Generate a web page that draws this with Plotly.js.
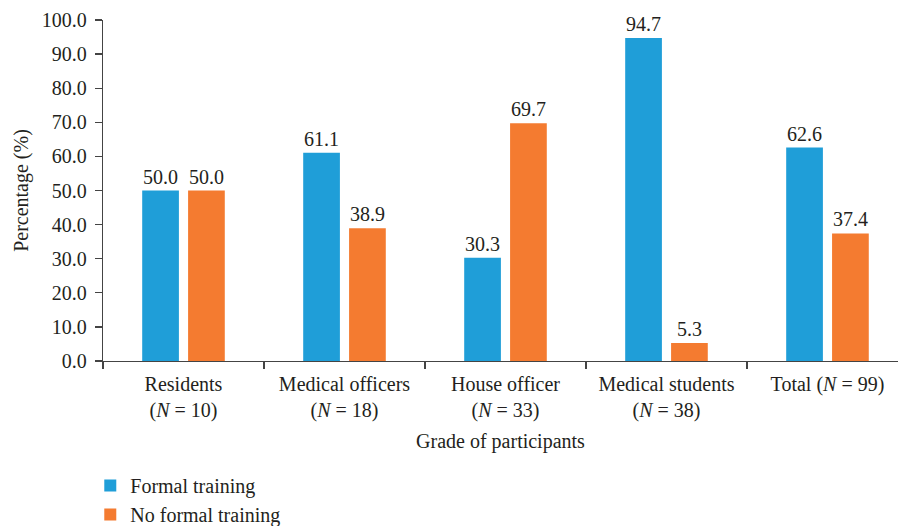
<!DOCTYPE html>
<html><head><meta charset="utf-8">
<script src="https://cdn.plot.ly/plotly-3.0.1.min.js"></script>
<style>html,body{margin:0;padding:0;background:#fff}</style>
</head><body>
<div id="chart" style="width:898px;height:526px"></div>
<script>
const categories = ["Residents<br>(<i>N</i> = 10)", "Medical officers<br>(<i>N</i> = 18)", "House officer<br>(<i>N</i> = 33)", "Medical students<br>(<i>N</i> = 38)", "Total (<i>N</i> = 99)"];
const formalTraining = [50.0, 61.1, 30.3, 94.7, 62.6];
const noFormalTraining = [50.0, 38.9, 69.7, 5.3, 37.4];
const yTicks = [0, 10, 20, 30, 40, 50, 60, 70, 80, 90, 100];

const font = {family: "Liberation Serif, Times New Roman, serif", size: 20, color: "#231f20"};
const traces = [
  {type: "bar", name: "Formal training", x: categories, y: formalTraining,
   marker: {color: "#1f9ed8"}, text: formalTraining.map(v => v.toFixed(1)),
   textposition: "outside", cliponaxis: false, constraintext: "none", textfont: font},
  {type: "bar", name: "No formal training", x: categories, y: noFormalTraining,
   marker: {color: "#f47b30"}, text: noFormalTraining.map(v => v.toFixed(1)),
   textposition: "outside", cliponaxis: false, constraintext: "none", textfont: font}
];
const layout = {
  width: 898, height: 526,
  margin: {l: 103, r: 0, t: 20, b: 165, autoexpand: false},
  font: font,
  paper_bgcolor: "#fff", plot_bgcolor: "#fff",
  barmode: "group", bargap: 0.43, bargroupgap: 0.2,
  showlegend: true,
  legend: {orientation: "v", x: -0.016, xref: "paper", xanchor: "left",
           y: 0.114, yref: "container", yanchor: "top",
           font: font, tracegroupgap: 0, itemwidth: 30},
  xaxis: {
    type: "category", range: [-0.5, 4.438], automargin: false, tickangle: 0,
    showline: true, linecolor: "#444", linewidth: 1.3,
    ticks: "outside", tickson: "boundaries", ticklen: 7, tickcolor: "#444", tickwidth: 1.3,
    tickfont: font, showgrid: false, zeroline: false, ticklabelstandoff: 5,
    title: {text: "Grade of participants", font: font, standoff: 12}
  },
  yaxis: {
    range: [0, 100], tickvals: yTicks, ticktext: yTicks.map(v => v.toFixed(1)),
    automargin: false,
    showline: true, linecolor: "#444", linewidth: 1.3,
    ticks: "outside", ticklen: 7, tickcolor: "#444", tickwidth: 1.3,
    tickfont: font, showgrid: false, zeroline: false, ticklabelstandoff: 4,
    title: {text: "Percentage (%)", font: font, standoff: 7}
  }
};
Plotly.newPlot("chart", traces, layout, {staticPlot: true, displayModeBar: false});
</script>
</body></html>
